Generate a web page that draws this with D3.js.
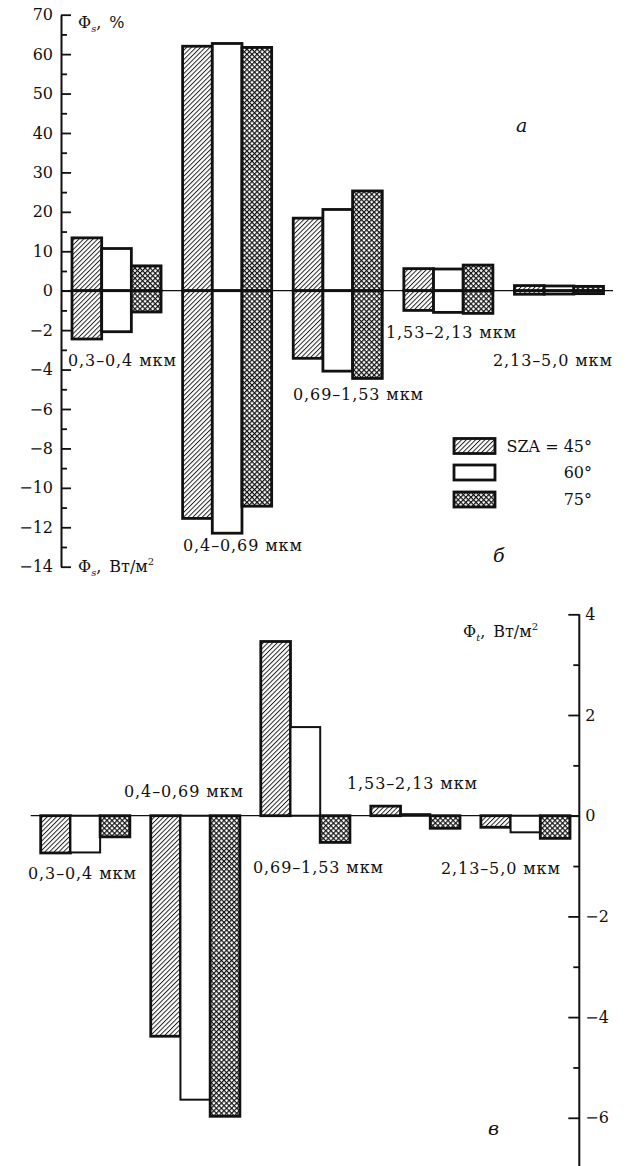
<!DOCTYPE html>
<html>
<head>
<meta charset="utf-8">
<script src="https://cdn.jsdelivr.net/npm/d3@7"></script>
<style>
  body { margin: 0; background: #fff; }
  svg text { font-family: "DejaVu Serif", "Liberation Serif", serif; fill: #111; }
</style>
</head>
<body>
<svg id="chart" width="627" height="1166"></svg>
<script>
// ---------- DATA ----------
const categories = ["0,3–0,4 мкм", "0,4–0,69 мкм", "0,69–1,53 мкм", "1,53–2,13 мкм", "2,13–5,0 мкм"];
const seriesNames = ["SZA = 45°", "60°", "75°"];
// Panel a: Φs, %  (positive part)
const pct45 = [13.4, 62.0, 18.4, 5.6, 1.3];
const pct60 = [10.7, 62.7, 20.6, 5.5, 1.2];
const pct75 = [6.3, 61.7, 25.3, 6.5, 1.1];
// Panel б: Φs, Вт/м² (negative part)
const fs45 = [-2.45, -11.55, -3.43, -1.0, -0.18];
const fs60 = [-2.08, -12.3, -4.08, -1.1, -0.17];
const fs75 = [-1.08, -10.93, -4.45, -1.15, -0.15];
// Panel в: Φt, Вт/м²
const ft45 = [-0.74, -4.38, 3.46, 0.19, -0.23];
const ft60 = [-0.73, -5.64, 1.76, 0.03, -0.33];
const ft75 = [-0.42, -5.97, -0.53, -0.25, -0.45];
// Tick values
const pctTicks = [0, 10, 20, 30, 40, 50, 60, 70];
const pctMinor = [5, 15, 25, 35, 45, 55, 65];
const fsTicks = [-2, -4, -6, -8, -10, -12, -14];
const fsMinor = [-1, -3, -5, -7, -9, -11, -13];
const ftTicks = [4, 2, 0, -2, -4, -6];
const ftMinor = [3, 1, -1, -3, -5];

// ---------- SETUP ----------
const svg = d3.select("#chart");
const defs = svg.append("defs");
const minus = s => String(s).replace("-", "\u2212");

const hp = defs.append("pattern").attr("id", "hatch").attr("patternUnits", "userSpaceOnUse")
  .attr("width", 3.3).attr("height", 3.3).attr("patternTransform", "rotate(45)");
hp.append("rect").attr("width", 3.3).attr("height", 3.3).attr("fill", "#fff");
hp.append("line").attr("x1", 0.5).attr("y1", 0).attr("x2", 0.5).attr("y2", 3.3).attr("stroke", "#111").attr("stroke-width", 0.9);

const cp = defs.append("pattern").attr("id", "cross").attr("patternUnits", "userSpaceOnUse")
  .attr("width", 3.6).attr("height", 3.6).attr("patternTransform", "rotate(45)");
cp.append("rect").attr("width", 3.6).attr("height", 3.6).attr("fill", "#fff");
cp.append("line").attr("x1", 0.6).attr("y1", 0).attr("x2", 0.6).attr("y2", 3.6).attr("stroke", "#111").attr("stroke-width", 1.2);
cp.append("line").attr("x1", 0).attr("y1", 0.6).attr("x2", 3.6).attr("y2", 0.6).attr("stroke", "#111").attr("stroke-width", 1.2);

const fills = ["url(#hatch)", "#fff", "url(#cross)"];

function labelText(g, x, y, txt, opts = {}) {
  return g.append("text").attr("x", x).attr("y", y).attr("dy", "0.35em")
    .attr("font-size", opts.size || 16).attr("letter-spacing", opts.ls != null ? opts.ls : 0.9)
    .attr("text-anchor", opts.anchor || "start").text(txt);
}

function phiLabel(g, x, y, sub, unit) {
  const t = g.append("text").attr("x", x).attr("y", y).attr("dy", "0.35em").attr("font-size", 16);
  t.append("tspan").text("Φ");
  t.append("tspan").attr("font-size", 10).attr("font-style", "italic").attr("dy", 4).text(sub);
  t.append("tspan").attr("dy", -4).text(",\u2002" + unit);
  if (unit !== "%") t.append("tspan").attr("font-size", 10).attr("dy", -7).text("2");
}

// ---------- TOP PANEL (а / б) ----------
const gTop = svg.append("g");
const axXTop = 61, y0Top = 290.7, pxPerPct = 3.943;
const yPct = d3.scaleLinear().domain([0, 70]).range([y0Top, y0Top - 70 * pxPerPct]);
const yFs = d3.scaleLinear().domain([0, -14]).range([y0Top, y0Top + 70 * pxPerPct]);
const xTop = d3.scaleBand().domain(categories).range([72, 603.5]).paddingInner(0.195).paddingOuter(0);
const xSerTop = d3.scaleBand().domain([0, 1, 2]).range([0, xTop.bandwidth()]);

const pctSeries = [pct45, pct60, pct75];
const fsSeries = [fs45, fs60, fs75];

pctSeries.forEach((vals, si) => {
  gTop.append("g").selectAll("rect").data(vals).join("rect")
    .attr("x", (d, i) => xTop(categories[i]) + xSerTop(si))
    .attr("width", xSerTop.bandwidth())
    .attr("y", d => yPct(d)).attr("height", d => yPct(0) - yPct(d))
    .attr("fill", fills[si]).attr("stroke", "#111").attr("stroke-width", 2.8);
});
fsSeries.forEach((vals, si) => {
  gTop.append("g").selectAll("rect").data(vals).join("rect")
    .attr("x", (d, i) => xTop(categories[i]) + xSerTop(si))
    .attr("width", xSerTop.bandwidth())
    .attr("y", yFs(0)).attr("height", d => yFs(d) - yFs(0))
    .attr("fill", fills[si]).attr("stroke", "#111").attr("stroke-width", 2.8);
});
gTop.append("line").attr("x1", axXTop).attr("x2", 613).attr("y1", yPct(0)).attr("y2", yPct(0))
  .attr("stroke", "#111").attr("stroke-width", 1.2);

function styleAxis(g) {
  g.select(".domain").attr("stroke", "#111").attr("stroke-width", 2);
  g.selectAll(".tick line").attr("stroke", "#111").attr("stroke-width", 1.8);
  g.selectAll(".tick text").attr("font-family", "DejaVu Serif").attr("font-size", 16).attr("fill", "#111");
}
const axPct = gTop.append("g").attr("transform", `translate(${axXTop},0)`)
  .call(d3.axisLeft(yPct).tickValues(pctTicks).tickFormat(d3.format("d")).tickSizeInner(-10).tickSizeOuter(0).tickPadding(8));
styleAxis(axPct);
const axFs = gTop.append("g").attr("transform", `translate(${axXTop},0)`)
  .call(d3.axisLeft(yFs).tickValues(fsTicks).tickFormat(d => minus(d)).tickSizeInner(-10).tickSizeOuter(0).tickPadding(8));
styleAxis(axFs);
const axPctMin = gTop.append("g").attr("transform", `translate(${axXTop},0)`)
  .call(d3.axisLeft(yPct).tickValues(pctMinor).tickFormat("").tickSizeInner(-6).tickSizeOuter(0));
styleAxis(axPctMin); axPctMin.select(".domain").remove();
const axFsMin = gTop.append("g").attr("transform", `translate(${axXTop},0)`)
  .call(d3.axisLeft(yFs).tickValues(fsMinor).tickFormat("").tickSizeInner(-6).tickSizeOuter(0));
styleAxis(axFsMin); axFsMin.select(".domain").remove();

phiLabel(gTop, 78, yPct(70) + 8, "s", "%");
phiLabel(gTop, 78, yFs(-14), "s", "Вт/м");

const topLabelPos = [[68, 360], [183, 545], [293, 394], [386, 332], [493, 360]];
categories.forEach((c, i) => labelText(gTop, topLabelPos[i][0], topLabelPos[i][1], c));

labelText(gTop, 516, 125, "а", { size: 19, ls: 0 }).attr("font-style", "italic");
labelText(gTop, 493, 555, "б", { size: 19, ls: 0 }).attr("font-style", "italic");

const legY = [446, 472.5, 499.5];
seriesNames.forEach((s, i) => {
  gTop.append("rect").attr("x", 454).attr("y", legY[i] - 7.5).attr("width", 41).attr("height", 15)
    .attr("fill", fills[i]).attr("stroke", "#111").attr("stroke-width", 2.8);
  labelText(gTop, 592, legY[i], s, { anchor: "end", ls: 0, size: 16 });
});

// ---------- BOTTOM PANEL (в) ----------
const gBot = svg.append("g");
const axXBot = 579.3, y0Bot = 815.7, pxPerW = 50.35;
const yFt = d3.scaleLinear().domain([-7, 4]).range([y0Bot + 7 * pxPerW, y0Bot - 4 * pxPerW]);
const xBot = d3.scaleBand().domain(categories).range([40.7, 570]).paddingInner(0.19).paddingOuter(0);
const xSerBot = d3.scaleBand().domain([0, 1, 2]).range([0, xBot.bandwidth()]);
const ftSeries = [ft45, ft60, ft75];

ftSeries.forEach((vals, si) => {
  gBot.append("g").selectAll("rect").data(vals).join("rect")
    .attr("x", (d, i) => xBot(categories[i]) + xSerBot(si))
    .attr("width", xSerBot.bandwidth())
    .attr("y", d => yFt(Math.max(0, d))).attr("height", d => Math.abs(yFt(d) - yFt(0)))
    .attr("fill", fills[si]).attr("stroke", "#111").attr("stroke-width", si === 1 ? 2 : 2.8);
});
gBot.append("line").attr("x1", 30.7).attr("x2", axXBot).attr("y1", yFt(0)).attr("y2", yFt(0))
  .attr("stroke", "#111").attr("stroke-width", 1.2);

const axFt = gBot.append("g").attr("transform", `translate(${axXBot},0)`)
  .call(d3.axisRight(yFt).tickValues(ftTicks).tickFormat(d => minus(d)).tickSizeInner(-11).tickSizeOuter(0).tickPadding(6));
styleAxis(axFt);
axFt.select(".domain").attr("d", `M0,${yFt(4)}V1166`);
const axFtMin = gBot.append("g").attr("transform", `translate(${axXBot},0)`)
  .call(d3.axisRight(yFt).tickValues(ftMinor).tickFormat("").tickSizeInner(-6).tickSizeOuter(0));
styleAxis(axFtMin); axFtMin.select(".domain").remove();

phiLabel(gBot, 463, 631, "t", "Вт/м");

const botLabelPos = [[28, 873], [124, 791], [253, 867], [347, 783], [441, 868]];
categories.forEach((c, i) => labelText(gBot, botLabelPos[i][0], botLabelPos[i][1], c));
labelText(gBot, 488, 1128, "в", { size: 19, ls: 0 }).attr("font-style", "italic");
</script>
</body>
</html>
